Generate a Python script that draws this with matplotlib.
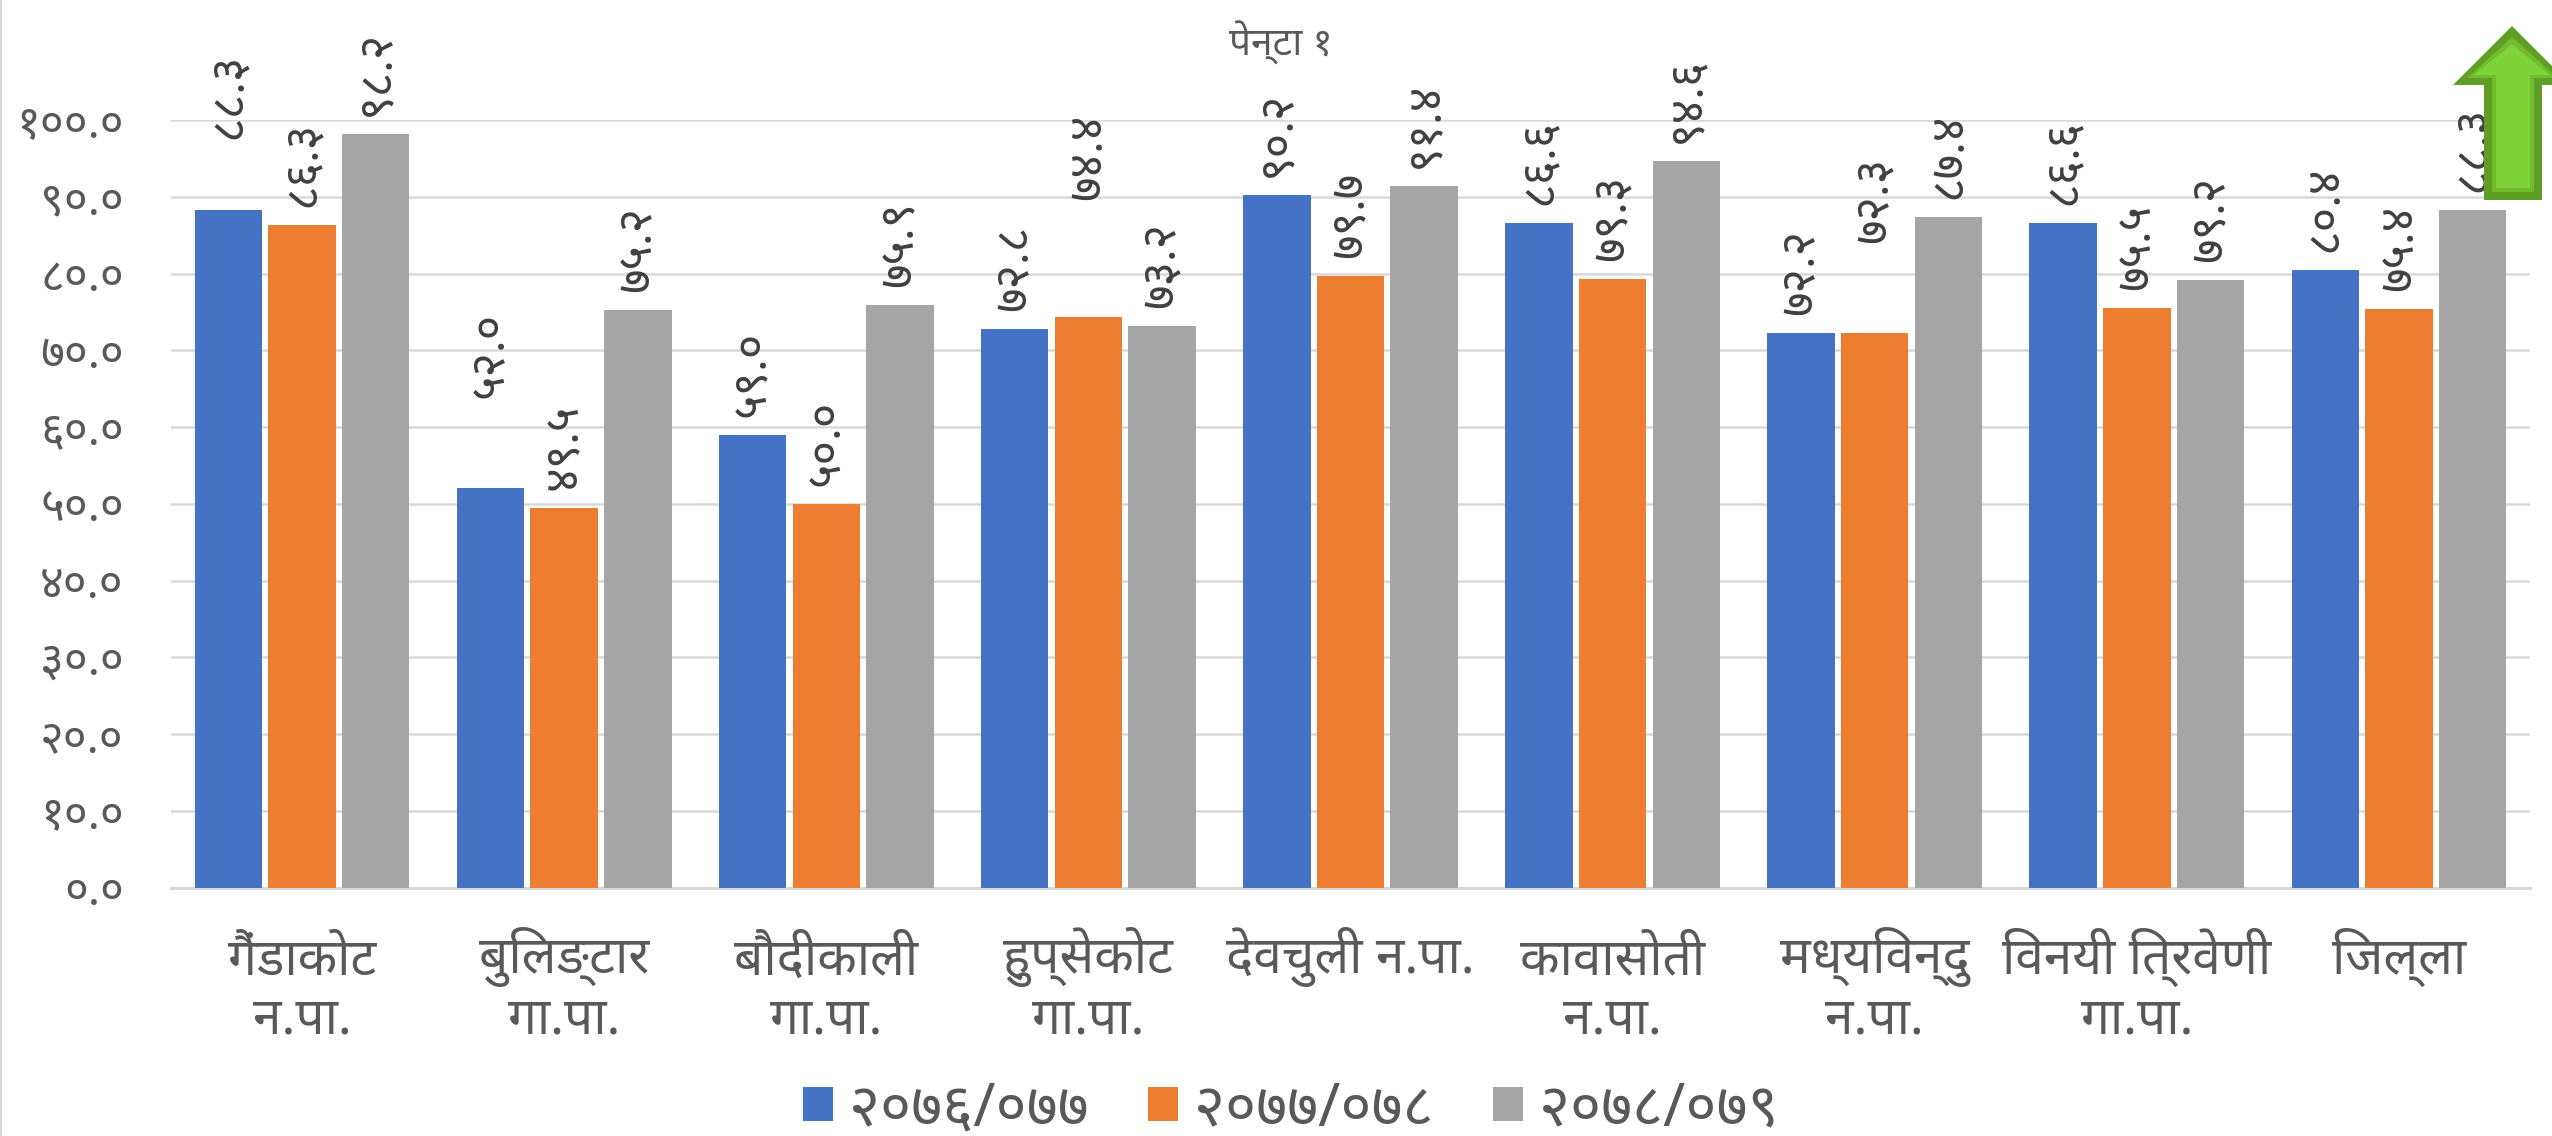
import re
import matplotlib
matplotlib.use('Agg')
import matplotlib.pyplot as plt
from matplotlib.patches import Polygon
from matplotlib.lines import Line2D
import numpy as np

plt.rcParams['font.family'] = ['Noto Sans', 'DejaVu Sans']

W, H = 2552, 1136

categories = ['गैंडाकोट\nन.पा.', 'बुलिङ्टार\nगा.पा.', 'बौदीकाली\nगा.पा.', 'हुप्सेकोट\nगा.पा.',
              'देवचुली न.पा.', 'कावासोती\nन.पा.', 'मध्यविन्दु\nन.पा.', 'विनयी त्रिवेणी\nगा.पा.', 'जिल्ला']
series_names = ['२०७६/०७७', '२०७७/०७८', '२०७८/०७९']
v_2076 = [88.3, 52.0, 59.0, 72.8, 90.2, 86.6, 72.2, 86.6, 80.4]
v_2077 = [86.3, 49.5, 50.0, 74.4, 79.7, 79.3, 72.3, 75.5, 75.4]
v_2078 = [98.2, 75.2, 75.9, 73.2, 91.4, 94.6, 87.4, 79.2, 88.3]
colors = ['#4472C4', '#ED7D31', '#A5A5A5']
y_ticks = [0, 10, 20, 30, 40, 50, 60, 70, 80, 90, 100]
title = 'पेन्टा १'

# labels that were dragged higher by hand in the original (pixels)
moved = {(0, 0): 53, (0, 1): 72, (1, 3): 99, (1, 6): 72}

digits = str.maketrans('0123456789', '०१२३४५६७८९')


def nep(v):
    return f'{v:.1f}'.translate(digits)


def shaped(s):
    # matplotlib does no Devanagari shaping, so the short i sign has to come
    # before its consonant cluster to be drawn on the left of it
    s = re.sub('((?:[क-ह]्)*[क-ह])ि', 'ि\\1', s)
    # baseline alignment goes by the last line, so single lines get an empty second one
    return s if '\n' in s else s + '\n '


def px(points):
    # full size pixels, y from the top -> figure fraction
    return [(x / W, 1 - y / H) for x, y in points]


fig = plt.figure(figsize=(W / 100, H / 100), dpi=100)
ax = fig.add_axes([171 / W, 1 - 887.7 / H, (2530 - 171) / W, (887.7 - 120) / H])

x = np.arange(len(categories))
for i, vals in enumerate([v_2076, v_2077, v_2078]):
    pos = x + (i - 1) * 0.281
    ax.bar(pos, vals, 0.2575, color=colors[i], label=series_names[i], zorder=3)
    for j, v in enumerate(vals):
        ax.annotate(nep(v), (pos[j], v), xytext=(0, 18 + moved.get((i, j), 0)),
                    textcoords='offset pixels', ha='center', va='bottom', rotation=90,
                    fontsize=34, color='#404040', zorder=4)

ax.set_xlim(-0.5, 8.5)
ax.set_ylim(0, 100)
ax.set_yticks(y_ticks)
ax.set_yticklabels([nep(t) for t in y_ticks], fontsize=33, color='#595959')
ax.set_xticks(x)
ax.set_xticklabels([shaped(c) for c in categories], fontsize=37, color='#595959', linespacing=1.2)
plt.setp(ax.get_xticklabels(), va='baseline')
ax.tick_params(axis='both', length=0)
ax.tick_params(axis='y', pad=34)
ax.tick_params(axis='x', pad=105)
ax.grid(axis='y', color='#D9D9D9', linewidth=1.8, zorder=0)
ax.set_axisbelow(True)
for s in ['top', 'right', 'left']:
    ax.spines[s].set_visible(False)
ax.spines['bottom'].set_color('#D9D9D9')
ax.spines['bottom'].set_linewidth(2.2)

fig.text(1281 / W, 1 - 43 / H, title, fontsize=28, color='#595959', ha='center', va='center')

fig.legend(loc='center', bbox_to_anchor=(1291 / W, 1 - 1109 / H), ncol=3, frameon=False,
           fontsize=43, labelcolor='#595959', handlelength=0.5, handleheight=0.5,
           handletextpad=0.27, columnspacing=1.0, borderpad=0)

# chart border on the left edge
fig.add_artist(Line2D([1 / W, 1 / W], [0, 1], color='#D9D9D9', linewidth=1.5))

# green up arrow on top of the chart
outer = [(2512, 26), (2571, 85), (2542, 85), (2542, 200), (2484, 200), (2484, 85), (2453, 85)]
inner = [(2512, 37), (2558, 78), (2534, 78), (2534, 192), (2492, 192), (2492, 78), (2467, 78)]
core = [(2512, 44), (2550, 75), (2530, 75), (2530, 188), (2496, 188), (2496, 75), (2474, 75)]
fig.add_artist(Polygon(px(outer), closed=True, transform=fig.transFigure, facecolor='#5F9E25',
                       edgecolor='none', zorder=5))
fig.add_artist(Polygon(px(inner), closed=True, transform=fig.transFigure, facecolor='#72BA2E',
                       edgecolor='none', zorder=6))
fig.add_artist(Polygon(px(core), closed=True, transform=fig.transFigure, facecolor='#7ED338',
                       edgecolor='none', zorder=7))

fig.savefig('out.png', dpi=100)
